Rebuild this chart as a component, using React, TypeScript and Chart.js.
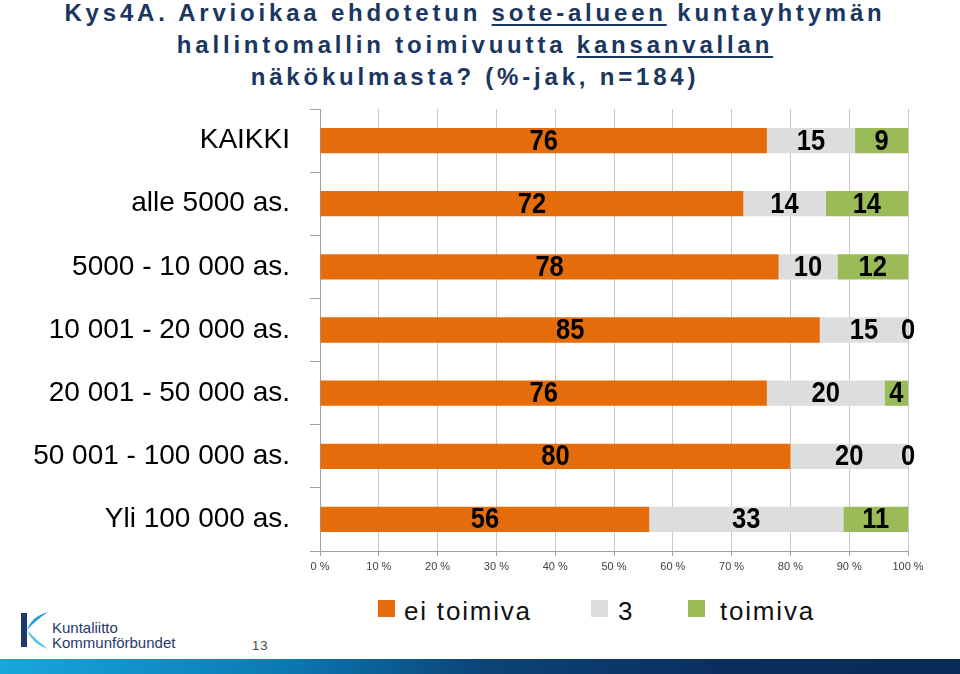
import React, { useEffect, useRef } from "react";
import { Chart, registerables } from "chart.js";

Chart.register(...registerables);

const categories = [
  "KAIKKI",
  "alle 5000 as.",
  "5000 - 10 000 as.",
  "10 001 - 20 000 as.",
  "20 001 - 50 000 as.",
  "50 001 - 100 000 as.",
  "Yli 100 000 as.",
];
const eiToimiva = [76, 72, 78, 85, 76, 80, 56];
const kolme = [15, 14, 10, 15, 20, 20, 33];
const toimiva = [9, 14, 12, 0, 4, 0, 11];
const seriesNames = ["ei toimiva", "3", "toimiva"];
const seriesColors = ["#E46C0A", "#DDDDDD", "#9BBB59"];
const xTickValues = [0, 10, 20, 30, 40, 50, 60, 70, 80, 90, 100];
const xTickLabels = xTickValues.map((v) => `${v} %`);

const FONT = "'Liberation Sans', Arial, Helvetica, sans-serif";
const NAVY = "#1B365F";

const barLabels = {
  id: "barLabels",
  afterDatasetsDraw(chart: any) {
    const ctx = chart.ctx;
    chart.data.datasets.forEach((ds: any, di: number) => {
      const meta = chart.getDatasetMeta(di);
      meta.data.forEach((bar: any, i: number) => {
        const v = ds.data[i];
        const p = bar.getProps(["x", "y", "base"], true);
        const cx = v === 0 ? p.x : (p.x + p.base) / 2;
        ctx.save();
        ctx.translate(cx, p.y + 1);
        ctx.scale(0.88, 1);
        ctx.font = `bold 29px ${FONT}`;
        ctx.fillStyle = "#000";
        ctx.textAlign = "center";
        ctx.textBaseline = "middle";
        ctx.fillText(String(v), 0, 0);
        ctx.restore();
      });
    });
  },
};

function BarChart() {
  const ref = useRef<HTMLCanvasElement | null>(null);
  useEffect(() => {
    if (!ref.current) return;
    const values = [eiToimiva, kolme, toimiva];
    const chart = new Chart(ref.current, {
      type: "bar",
      data: {
        labels: categories,
        datasets: values.map((d, i) => ({
          label: seriesNames[i],
          data: d,
          backgroundColor: seriesColors[i],
          borderWidth: 0,
          categoryPercentage: 1,
          barPercentage: 0.4,
        })),
      },
      options: {
        indexAxis: "y",
        animation: false,
        responsive: false,
        devicePixelRatio: 1,
        layout: { padding: { top: 9, right: 52, left: 0, bottom: 0 } },
        plugins: {
          legend: { display: false },
          tooltip: { enabled: false },
        },
        scales: {
          x: {
            stacked: true,
            min: 0,
            max: 100,
            afterBuildTicks: (s: any) => {
              s.ticks = xTickValues.map((v) => ({ value: v }));
            },
            afterFit: (s: any) => {
              s.height = 29;
            },
            ticks: {
              callback: (_v: any, i: number) => xTickLabels[i],
              font: { size: 11, family: FONT },
              color: "#404040",
              padding: 4,
              maxRotation: 0,
              autoSkip: false,
            },
            grid: {
              color: "#C8C8C8",
              tickColor: "#A0A0A0",
              tickLength: 5,
            },
            border: { color: "#A0A0A0" },
          },
          y: {
            stacked: true,
            afterFit: (s: any) => {
              s.width = 320;
              s.paddingTop = 0;
              s.paddingBottom = 0;
            },
            ticks: {
              font: { size: 28, family: FONT },
              color: "#000",
              padding: 20,
              autoSkip: false,
            },
            grid: {
              offset: true,
              drawOnChartArea: false,
              tickLength: 10,
              color: "#A0A0A0",
            },
            border: { color: "#A0A0A0" },
          },
        },
      } as any,
      plugins: [barLabels],
    });
    return () => chart.destroy();
  }, []);
  return (
    <canvas
      ref={ref}
      width={960}
      height={480}
      style={{ position: "absolute", left: 0, top: 100, width: 960, height: 480 }}
    />
  );
}

const legendLayout = [
  { box: 378, text: 404 },
  { box: 591, text: 618 },
  { box: 688, text: 720 },
];

export default function App() {
  const titleLine: React.CSSProperties = {
    position: "absolute",
    left: 0,
    width: 950,
    textAlign: "center",
    fontFamily: FONT,
    fontWeight: "bold",
    fontSize: 24,
    lineHeight: "32px",
    letterSpacing: "3.8px",
    color: NAVY,
    whiteSpace: "nowrap",
  };
  const u: React.CSSProperties = {
    textDecoration: "underline",
    textDecorationThickness: "2px",
    textUnderlineOffset: "3px",
  };
  return (
    <div
      style={{
        position: "fixed",
        left: 0,
        top: 0,
        width: 960,
        height: 674,
        background: "#fff",
        overflow: "hidden",
      }}
    >
      <div style={{ ...titleLine, top: -3 }}>
        Kys4A. Arvioikaa ehdotetun <span style={u}>sote-alueen</span> kuntayhtymän
      </div>
      <div style={{ ...titleLine, top: 29 }}>
        hallintomallin toimivuutta <span style={u}>kansanvallan</span>
      </div>
      <div style={{ ...titleLine, top: 61 }}>näkökulmasta? (%-jak, n=184)</div>

      <BarChart />

      {seriesNames.map((name, i) => (
        <React.Fragment key={name}>
          <div
            style={{
              position: "absolute",
              left: legendLayout[i].box,
              top: 600,
              width: 17,
              height: 17,
              background: seriesColors[i],
            }}
          />
          <div
            style={{
              position: "absolute",
              left: legendLayout[i].text,
              top: 598,
              fontFamily: FONT,
              fontSize: 26,
              lineHeight: "26px",
              letterSpacing: "1.8px",
              color: "#111",
              whiteSpace: "nowrap",
            }}
          >
            {name}
          </div>
        </React.Fragment>
      ))}

      <svg
        width={40}
        height={48}
        style={{ position: "absolute", left: 14, top: 608 }}
      >
        <rect x={7} y={5} width={6} height={34} fill="#1B3A6B" />
        <path d="M34 4 Q 18 8 13 22 Q 21 13 34 4 Z" fill="#1E9FD6" />
        <path d="M13 22 Q 18 36 34 41 Q 22 32 13 22 Z" fill="#5BC2E7" />
      </svg>
      <div
        style={{
          position: "absolute",
          left: 52,
          top: 620,
          fontFamily: FONT,
          fontSize: 15,
          lineHeight: "15px",
          color: "#1F3A68",
          whiteSpace: "nowrap",
        }}
      >
        Kuntaliitto
        <br />
        Kommunförbundet
      </div>
      <div
        style={{
          position: "absolute",
          left: 252,
          top: 639,
          fontFamily: FONT,
          fontSize: 13,
          lineHeight: "14px",
          letterSpacing: "1px",
          color: "#444",
        }}
      >
        13
      </div>
      <div
        style={{
          position: "absolute",
          left: 0,
          top: 659,
          width: 960,
          height: 15,
          background:
            "linear-gradient(to right, #16a8dd 0%, #0b78b3 30%, #0c4478 50%, #0b2e5f 75%, #0a2a58 100%)",
        }}
      />
    </div>
  );
}
